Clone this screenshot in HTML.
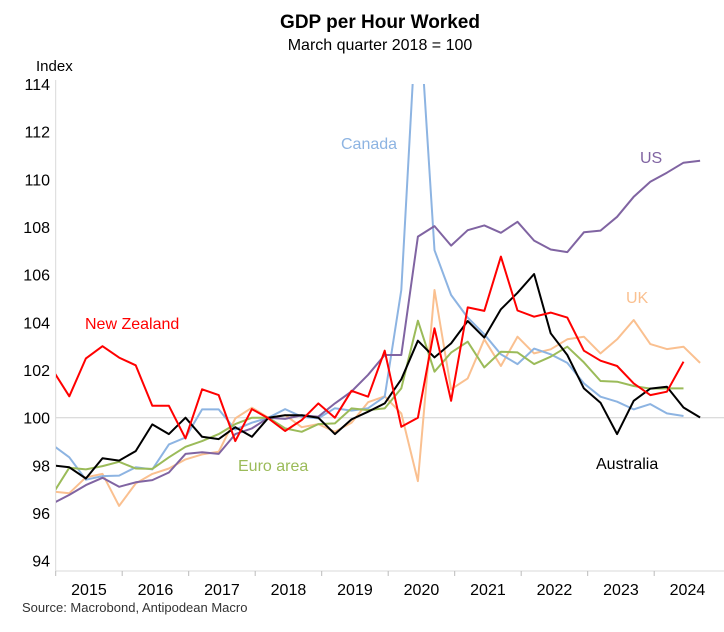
<!DOCTYPE html>
<html><head><meta charset="utf-8"><style>
body{margin:0;background:#fff;font-family:"Liberation Sans",Arial,sans-serif}
</style></head><body>
<svg width="724" height="627" xmlns="http://www.w3.org/2000/svg" font-family="Liberation Sans, Arial, sans-serif">
<text x="380" y="28" text-anchor="middle" font-size="19" font-weight="bold">GDP per Hour Worked</text>
<text x="380" y="50" text-anchor="middle" font-size="16">March quarter 2018 = 100</text>
<text x="36" y="71" font-size="15">Index</text>
<text x="22" y="612" font-size="13" fill="#333">Source: Macrobond, Antipodean Macro</text>
<defs><clipPath id="pc"><rect x="56" y="84" width="668" height="487"/></clipPath></defs>
<g id="axes"></g>
<g id="lines" clip-path="url(#pc)"></g>
<text x="341" y="149" font-size="16" fill="#8db4e2">Canada</text>
<text x="640" y="163" font-size="16" fill="#8064a2">US</text>
<text x="626" y="303" font-size="16" fill="#fac090">UK</text>
<text x="85" y="329" font-size="16" fill="#ff0000">New Zealand</text>
<text x="238" y="471" font-size="16" fill="#9bbb59">Euro area</text>
<text x="596" y="469" font-size="16" fill="#000">Australia</text>
</svg>
<script>
const years = [2015,2016,2017,2018,2019,2020,2021,2022,2023,2024];
const yTicks = [94,96,98,100,102,104,106,108,110,112,114];
const australia = [98.0,97.92,97.45,98.3,98.2,98.6,99.72,99.31,100.0,99.2,99.1,99.6,99.2,100,100.1,100.1,100.0,99.31,99.93,100.25,100.6,101.61,103.23,102.53,103.12,104.06,103.36,104.55,105.24,106.03,103.54,102.63,101.23,100.63,99.31,100.71,101.22,101.3,100.43,100.01];
const us = [96.4,96.76,97.17,97.48,97.1,97.29,97.38,97.7,98.48,98.55,98.48,99.31,99.55,100,99.95,100.1,100.04,100.6,101.1,101.8,102.63,102.63,107.6,108.04,107.22,107.87,108.07,107.76,108.22,107.43,107.06,106.95,107.78,107.85,108.43,109.27,109.9,110.28,110.7,110.78];
const uk = [96.9,96.83,97.5,97.64,96.3,97.24,97.64,97.87,98.25,98.46,98.57,99.97,100.42,100,100.11,99.6,99.73,99.41,99.79,100.65,100.9,100.18,97.34,105.36,101.19,101.65,103.29,102.17,103.4,102.7,102.87,103.29,103.4,102.7,103.29,104.1,103.09,102.88,102.98,102.3];
const canada = [98.85,98.34,97.4,97.55,97.57,97.92,97.83,98.88,99.17,100.35,100.35,99.5,99.79,100,100.36,100.04,99.97,100.4,100.3,100.4,100.88,105.36,118,107.03,105.15,104.2,103.5,102.66,102.25,102.9,102.66,102.3,101.44,100.88,100.67,100.35,100.57,100.18,100.07];
const euro = [96.8,97.9,97.83,97.97,98.15,97.87,97.85,98.34,98.78,99.02,99.31,99.73,100,100,99.55,99.41,99.73,99.76,100.39,100.32,100.39,101.23,104.07,101.93,102.73,103.19,102.11,102.77,102.74,102.25,102.56,102.98,102.32,101.54,101.51,101.33,101.22,101.23,101.23];
const nz = [102.0,100.9,102.49,103.0,102.52,102.2,100.5,100.5,99.13,101.19,100.95,99.02,100.36,99.97,99.44,99.9,100.6,100.0,101.13,100.88,102.81,99.62,100.0,103.75,100.71,104.63,104.48,106.76,104.5,104.24,104.41,104.2,102.81,102.39,102.17,101.44,100.95,101.09,102.35];

const NS='http://www.w3.org/2000/svg';
const X0=55.7, YW=66.5, QW=16.6;
const xi = i => X0 - 3 + i*QW;
const yv = v => 417.7 - (v-100)*23.83;
const axes=document.getElementById('axes'), lines=document.getElementById('lines');
function mk(tag,attrs,parent){const e=document.createElementNS(NS,tag);for(const k in attrs)e.setAttribute(k,attrs[k]);parent.appendChild(e);return e;}
const base = 571;
let e=mk('line',{x1:56,x2:724,y1:yv(100),y2:yv(100),stroke:'#d0d0d0','stroke-width':1},axes);


e=mk('line',{x1:X0,x2:X0,y1:80,y2:base,stroke:'#d9d9d9','stroke-width':1},axes);


e=mk('line',{x1:X0,x2:724,y1:base,y2:base,stroke:'#d9d9d9','stroke-width':1},axes);


yTicks.forEach(t=>{
  const tx=mk('text',{x:50,y:yv(t)+6,'text-anchor':'end','font-size':16},axes);
  tx.textContent=t;
  
  
});
years.forEach((y,k)=>{
  const x=X0+k*YW;
  const tk=mk('line',{x1:x,x2:x,y1:base,y2:base+5,stroke:'#bbb'},axes);
  
  
  const tx=mk('text',{x:x+YW/2,y:base+24,'text-anchor':'middle','font-size':16},axes);
  tx.textContent=y;
  
  
});
const series=[[uk,'#fac090','uk-line'],[canada,'#8db4e2','canada-line'],[euro,'#9bbb59','euro-area-line'],[us,'#8064a2','us-line'],[australia,'#000000','australia-line'],[nz,'#ff0000','new-zealand-line']];
series.forEach(([d,c,n])=>{
  const p=mk('polyline',{points:d.map((v,i)=>xi(i).toFixed(1)+','+yv(v).toFixed(1)).join(' '),fill:'none',stroke:c,'stroke-width':2,'stroke-linejoin':'round'},lines);
  
  
});
</script>
</body></html>
